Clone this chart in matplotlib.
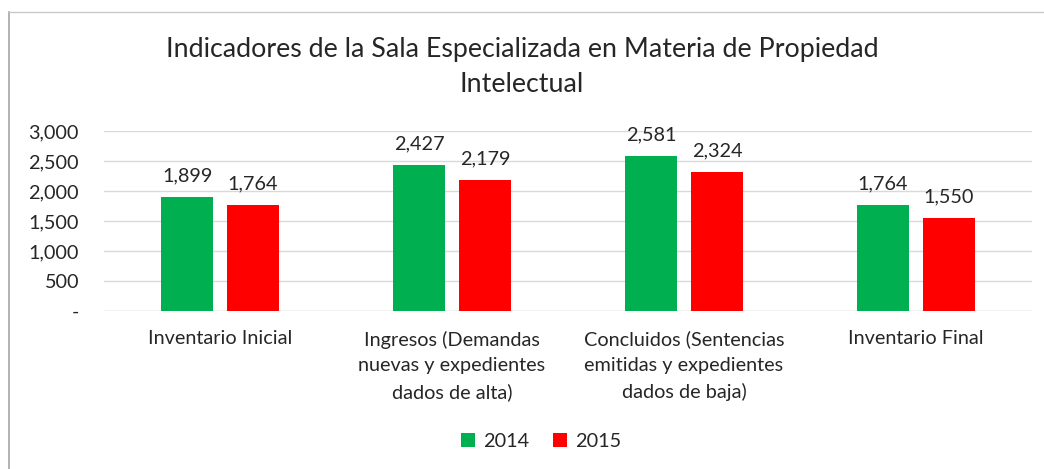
import matplotlib
matplotlib.use("Agg")
import matplotlib.pyplot as plt
import numpy as np
from matplotlib.lines import Line2D

plt.rcParams['font.family'] = ['Lato', 'DejaVu Sans']

categories = ["Inventario Inicial",
              "Ingresos (Demandas\nnuevas y expedientes\ndados de alta)",
              "Concluidos (Sentencias\nemitidas y expedientes\ndados de baja)",
              "Inventario Final"]
series_names = ["2014", "2015"]
values_2014 = [1899, 2427, 2581, 1764]
values_2015 = [1764, 2179, 2324, 1550]
yticks = [0, 500, 1000, 1500, 2000, 2500, 3000]
ytick_labels = ["-", "500", "1,000", "1,500", "2,000", "2,500", "3,000"]
title = "Indicadores de la Sala Especializada en Materia de Propiedad\nIntelectual"

colors = ["#00B050", "#FF0000"]
txt = '#262626'
fs = 14.3

W, H = 1044, 469
fig = plt.figure(figsize=(W/100, H/100), dpi=100)
ax = fig.add_axes([104/W, 1-311/H, (1032-104)/W, 180/H])

x = np.arange(len(categories))
bw = 0.224
gap = 0.06
off = (bw + gap) / 2
b1 = ax.bar(x - off, values_2014, bw, color=colors[0], label=series_names[0], zorder=3)
b2 = ax.bar(x + off, values_2015, bw, color=colors[1], label=series_names[1], zorder=3)
for bars in (b1, b2):
    for r in bars:
        v = r.get_height()
        ax.text(r.get_x() + r.get_width()/2, v + 260, f"{int(v):,}", ha='center', va='baseline',
                fontsize=fs, color=txt)

ax.set_xlim(-0.5, len(categories) - 0.5)
ax.set_ylim(0, 3000)
ax.set_yticks(yticks)
ax.set_yticklabels(ytick_labels, fontsize=fs, color=txt)
ax.set_xticks(x)
ax.set_xticklabels(categories, fontsize=fs, color=txt, linespacing=1.62, va='top')
ax.tick_params(axis='both', length=0)
ax.tick_params(axis='y', pad=18)
ax.tick_params(axis='x', pad=14)
ax.grid(axis='y', color='#D9D9D9', linewidth=1, zorder=0)
for s in ax.spines.values():
    s.set_visible(False)
ax.axhline(0, color='#D9D9D9', linewidth=1, zorder=2)

fig.text(0.5, 1-67/H, title, ha='center', va='center', fontsize=19.3, color=txt, linespacing=1.5)

leg = fig.legend(handles=[b1, b2], loc='center', bbox_to_anchor=(541/W, 1-441/H), ncol=2,
                 frameon=False, fontsize=fs, handlelength=0.7, handleheight=0.7,
                 columnspacing=1.2, handletextpad=0.4)
for t in leg.get_texts():
    t.set_color(txt)

# chart border (left and top visible)
fig.add_artist(Line2D([8.5/W, 8.5/W], [0, 1-12/H], color='#A6A6A6', linewidth=1.2))
fig.add_artist(Line2D([8.5/W, 1], [1-12.5/H, 1-12.5/H], color='#C8C8C8', linewidth=1.0))

fig.savefig("out.png", dpi=100)
